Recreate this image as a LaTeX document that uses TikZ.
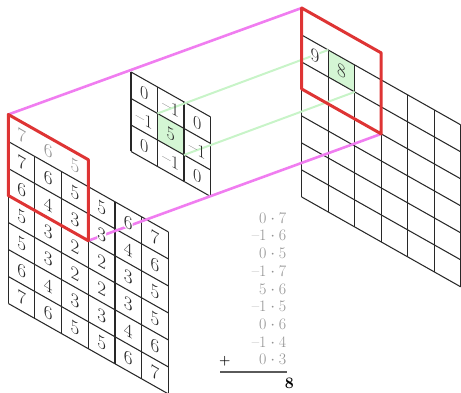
\documentclass[tikz,border=0pt]{standalone}
\definecolor{gridc}{RGB}{40,40,40}
\definecolor{digc}{RGB}{40,40,40}
\definecolor{greyc}{RGB}{145,145,145}
\definecolor{redc}{RGB}{222,52,52}
\definecolor{pinkc}{RGB}{240,125,240}
\definecolor{greenl}{RGB}{200,244,200}
\definecolor{greenf}{RGB}{212,246,212}
\definecolor{rulec}{RGB}{90,90,90}
\pgfdeclarelayer{bg}
\pgfdeclarelayer{conn}
\pgfsetlayers{bg,conn,main}
\newcommand{\digfont}{\fontsize{19}{19}\selectfont}
\newcommand{\kerfont}{\fontsize{18}{18}\selectfont}
\newcommand{\calcfont}{\fontsize{16}{16}\selectfont}
\begin{document}
\begin{tikzpicture}[x=1pt,y=1pt,
  gl/.style={draw=gridc, line width=1.05pt},
  redbox/.style={draw=redc, line width=3pt, line join=round},
  pinkline/.style={draw=pinkc, line width=2.6pt},
  greenline/.style={draw=greenl, line width=2pt},
  dig/.style={transform shape, font=\digfont, text=digc, inner sep=0pt},
  halo/.style={fill=white},
  kdig/.style={dig, font=\kerfont},
  gdig/.style={dig, text=greyc},
  calc/.style={font=\calcfont, text=greyc, anchor=base east, inner sep=0pt}]
\useasboundingbox (0,0) rectangle (461,393);
\clip (0,0) rectangle (461,393);

% ---------- input grid ----------
\begin{scope}[shift={(8.3,251.5)}, yslant=-0.565, x=26.67pt, y=-27pt]
  \begin{pgfonlayer}{bg}
    \foreach \r in {0,...,6} \draw[gl] (0,\r) -- (6,\r);
    \foreach \c in {0,...,6} \draw[gl] (\c,0) -- (\c,6);
  \end{pgfonlayer}
  \coordinate (inTL) at (0,-1);
  \coordinate (inTR) at (3,-1);
  \coordinate (inBR) at (3,2);
  \coordinate (inBL) at (0,2);
  \foreach \row [count=\r from 0] in {{7,6,5,5,6,7},{6,4,3,3,4,6},{5,3,2,2,3,5},{5,3,2,2,3,5},{6,4,3,3,4,6},{7,6,5,5,6,7}}
    \foreach \v [count=\c from 0] in \row
      \node[dig] (in\r\c) at (\c+0.5,\r+0.5) {\v};
  % digits crossed by the pink connector get a white halo
  \node[dig, halo] (h13) at (3.5,1.5) {3};
  \node[dig, halo] (h04) at (4.5,0.5) {6};
  \foreach \v [count=\c from 0] in {7,6,5}
    \node[gdig] (pad\c) at (\c+0.5,-0.5) {\v};
  \draw[redbox] (inTL) -- (inTR) -- (inBR) -- (inBL) -- cycle;
\end{scope}

% ---------- kernel ----------
\begin{scope}[shift={(131,321)}, yslant=-0.565, x=26.5pt, y=-26.5pt]
  \begin{pgfonlayer}{bg}
    \fill[greenf] (1,1) -- (2,1) -- (2,2) -- (1,2) -- cycle;
    \foreach \r in {0,...,3} \draw[gl] (0,\r) -- (3,\r);
    \foreach \c in {0,...,3} \draw[gl] (\c,0) -- (\c,3);
  \end{pgfonlayer}
  \coordinate (kA) at (1,1);
  \coordinate (kB) at (2,2);
  \node[kdig] (k00) at (0.5,0.5) {0};
  \node[kdig] (k01) at (1.5,0.5) {\textendash1};
  \node[kdig] (k02) at (2.5,0.5) {0};
  \node[kdig] (k10) at (0.5,1.5) {\textendash1};
  \node[kdig] (k11) at (1.5,1.5) {5};
  \node[kdig] (k12) at (2.5,1.5) {\textendash1};
  \node[kdig] (k20) at (0.5,2.5) {0};
  \node[kdig] (k21) at (1.5,2.5) {\textendash1};
  \node[kdig] (k22) at (2.5,2.5) {0};
\end{scope}

% ---------- output grid ----------
\begin{scope}[shift={(301.7,358)}, yslant=-0.565, x=26.5pt, y=-27pt]
  \begin{pgfonlayer}{bg}
    \fill[greenf] (1,0) -- (2,0) -- (2,1) -- (1,1) -- cycle;
    \foreach \r in {0,...,6} \draw[gl] (0,\r) -- (6,\r);
    \foreach \c in {0,...,6} \draw[gl] (\c,0) -- (\c,6);
  \end{pgfonlayer}
  \coordinate (outTL) at (0,-1);
  \coordinate (outTR) at (3,-1);
  \coordinate (outBR) at (3,2);
  \coordinate (outBL) at (0,2);
  \coordinate (oA) at (1,0);
  \coordinate (oB) at (2,1);
  \node[dig, halo] (o00) at (0.5,0.5) {9};
  \node[dig] (o01) at (1.5,0.5) {8};
  \draw[redbox] (outTL) -- (outTR) -- (outBR) -- (outBL) -- cycle;
\end{scope}

% ---------- connectors ----------
\begin{pgfonlayer}{conn}
  \draw[pinkline] (inTL) -- (outTL);
  \draw[pinkline] (inBR) -- (outBR);
  \draw[greenline] (kA) -- (oA);
  \draw[greenline] (kB) -- (oB);
\end{pgfonlayer}

% ---------- calculation ----------
\foreach \t [count=\i from 0] in {0${}\cdot{}$7,\textendash1${}\cdot{}$6,0${}\cdot{}$5,\textendash1${}\cdot{}$7,5${}\cdot{}$6,\textendash1${}\cdot{}$5,0${}\cdot{}$6,\textendash1${}\cdot{}$4,0${}\cdot{}$3}
  \node[calc] (c\i) at (286.5,{393-223.3-17.7*\i}) {\t};
\node[font=\bfseries\fontsize{13}{13}\selectfont, anchor=base west, inner sep=0pt] (plus) at (219,{393-365}) {+};
\coordinate (ruleL) at (220,{393-372.3});
\coordinate (ruleR) at (286.5,{393-372.3});
\draw[draw=rulec, line width=2pt] (ruleL) -- (ruleR);
\node[font=\bfseries\fontsize{16}{16}\selectfont, anchor=base east, inner sep=0pt] (res) at (294,{393-388.3}) {8};
\end{tikzpicture}
\end{document}
